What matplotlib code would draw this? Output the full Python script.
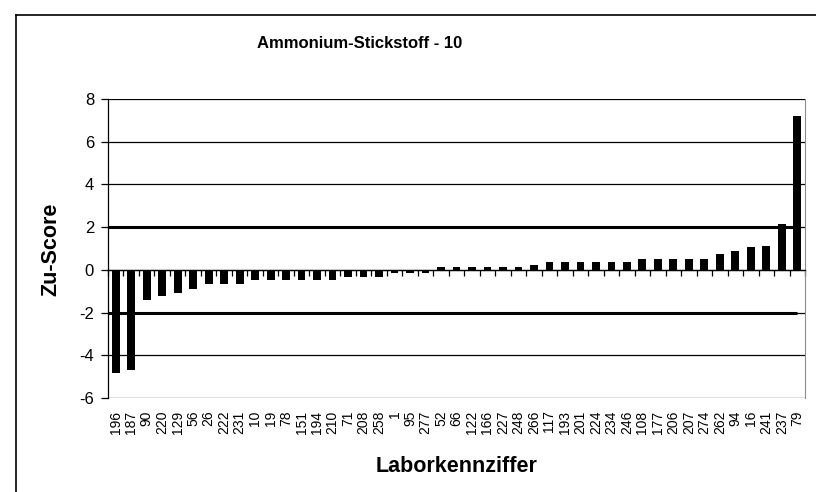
import matplotlib.pyplot as plt
from matplotlib.lines import Line2D

plt.rcParams['font.family'] = ['Liberation Sans', 'DejaVu Sans']
plt.rcParams['axes.unicode_minus'] = False

# Laborkennziffern und Zu-Scores
labs = ['196', '187', '90', '220', '129', '56', '26', '222', '231', '10',
        '19', '78', '151', '194', '210', '71', '208', '258', '1', '95',
        '277', '52', '66', '122', '166', '227', '248', '266', '117', '193',
        '201', '224', '234', '246', '108', '177', '206', '207', '274', '262',
        '94', '16', '241', '237', '79']
zu_score = [-4.85, -4.7, -1.42, -1.24, -1.08, -0.88, -0.68, -0.68, -0.67, -0.47,
            -0.47, -0.47, -0.47, -0.47, -0.47, -0.33, -0.33, -0.33, -0.13, -0.13,
            -0.13, 0.13, 0.13, 0.13, 0.13, 0.13, 0.13, 0.22, 0.37, 0.37,
            0.37, 0.37, 0.37, 0.37, 0.5, 0.5, 0.5, 0.5, 0.5, 0.72,
            0.86, 1.06, 1.12, 2.15, 7.2]
grenze = 2

W, H = 816, 492
fig = plt.figure(figsize=(W / 100, H / 100), dpi=100)
ax = fig.add_axes([108 / W, 1 - 398 / H, (805 - 108) / W, (398 - 99) / H])

x = list(range(len(labs)))
ax.bar(x, zu_score, width=0.5, color='black', zorder=3)

# Grenzlinien +/-2
ax.hlines([grenze, -grenze], -0.5, len(labs) - 1, colors='black', linewidth=2.2, zorder=2)

ax.set_xlim(-0.5, len(labs) - 0.5)
ax.set_ylim(-6, 8)
ax.set_yticks(range(-6, 9, 2))
ax.yaxis.grid(True, color='black', linewidth=0.9, zorder=1)
ax.set_axisbelow(True)
ax.tick_params(axis='y', direction='out', length=5, width=0.9, labelsize=12, pad=5)

# Kategorienachse auf Höhe 0, Beschriftung unten
ax.spines['bottom'].set_position(('data', 0))
ax.spines['bottom'].set_linewidth(0.9)
ax.spines['left'].set_linewidth(0.9)
ax.spines['top'].set_visible(False)
ax.spines['right'].set_color('#8c8c8c')
ax.set_xticks([i - 0.5 for i in range(len(labs) + 1)])
ax.set_xticklabels([])
ax.tick_params(axis='x', direction='out', length=4, width=0.9)
for i, lab in enumerate(labs):
    ax.annotate(lab, xy=(i, 0), xycoords=('data', 'axes fraction'),
                xytext=(0, -9), textcoords='offset points',
                rotation=90, ha='center', va='top', fontsize=10)

fig.text(360 / W, 1 - 44 / H, 'Ammonium-Stickstoff - 10', ha='center', va='center',
         fontsize=12, fontweight='bold')
fig.text(51 / W, 1 - 249 / H, 'Zu-Score', ha='center', va='center', rotation=90,
         fontsize=15.5, fontweight='bold')
fig.text(457 / W, 1 - 472 / H, 'Laborkennziffer', ha='center', va='baseline',
         fontsize=15.5, fontweight='bold')

# Rahmen des Diagrammbereichs
fig.add_artist(Line2D([16 / W, 16 / W], [0, 1 - 15 / H], color='black', linewidth=1.2,
                      transform=fig.transFigure))
fig.add_artist(Line2D([16 / W, 1], [1 - 15 / H, 1 - 15 / H], color='black', linewidth=1.2,
                      transform=fig.transFigure))

fig.savefig('out.png', dpi=100)
